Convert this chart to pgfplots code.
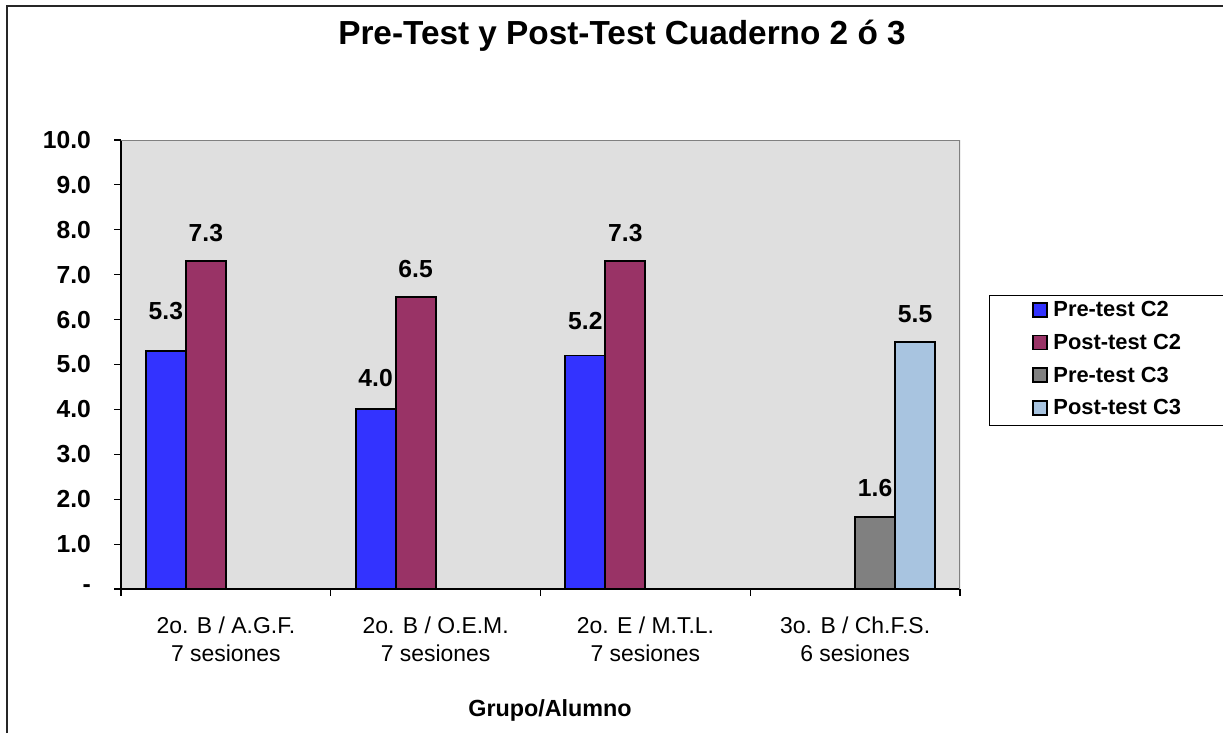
\documentclass[border=0pt]{standalone}
\usepackage{fontspec}
\setmainfont{Liberation Sans}
\usepackage{pgfplots}
\pgfplotsset{compat=1.18}
\usepackage{pgfplotstable}

\definecolor{cPreTwo}{HTML}{3333FF}
\definecolor{cPostTwo}{HTML}{993366}
\definecolor{cPreThree}{HTML}{808080}
\definecolor{cPostThree}{HTML}{A8C4E0}
\definecolor{plotbg}{HTML}{DFDFDF}

\pgfplotstableread{
x y s
0 5.3 9
1 4.0 2.25
2 5.2 4.5
}\preTwo
\pgfplotstableread{
x y s
0 7.3 0
1 6.5 0
2 7.3 0
}\postTwo
\pgfplotstableread{
x y s
3 1.6 0.75
}\preThree
\pgfplotstableread{
x y s
3 5.5 0
}\postThree

\pgfplotsset{
  sqleg/.style={legend image code/.code={\draw[##1,line width=1.4pt] (0pt,-4pt) rectangle (10.5pt,6.5pt);}},
}

\begin{document}
\begin{tikzpicture}
\useasboundingbox (0,0) rectangle (917.25pt,549.75pt);
\draw[line width=1.5pt, color=black!85] (5.25pt,0) -- (5.25pt,545.25pt) -- (917.25pt,545.25pt);
\node[anchor=base, font=\fontsize{25}{30}\selectfont\bfseries] at (466.5pt,516pt) {Pre-Test y Post-Test Cuaderno 2 ó 3};
\node[anchor=base, font=\fontsize{17.5}{21}\selectfont\bfseries] at (412.5pt,12.75pt) {Grupo/Alumno};
\begin{axis}[
  at={(90.75pt,108pt)}, anchor=south west,
  scale only axis, width=629.25pt, height=336.75pt,
  xmin=-0.5, xmax=3.5, ymin=0, ymax=10,
  ybar, bar width=0.1907,
  axis background/.style={fill=plotbg},
  axis x line*=bottom, axis y line*=left,
  axis line style={black, line width=0.8pt, -},
  xtick={-0.5,0.5,1.5,2.5,3.5}, xticklabels={},
  extra x ticks={0,1,2,3},
  extra x tick labels={{2o. B / A.G.F.\\7 sesiones},{2o. B / O.E.M.\\7 sesiones},{2o. E / M.T.L.\\7 sesiones},{3o. B / Ch.F.S.\\6 sesiones}},
  extra x tick style={tick style={draw=none}, xticklabel style={align=center, font=\fontsize{17.2}{21}\selectfont, yshift=-12pt}},
  ytick={0,1,2,3,4,5,6,7,8,9,10},
  yticklabels={-,1.0,2.0,3.0,4.0,5.0,6.0,7.0,8.0,9.0,10.0},
  yticklabel style={font=\fontsize{18.5}{22}\selectfont\bfseries, xshift=-14pt},
  tick align=outside, major tick length=5pt,
  tick style={black, line width=0.8pt},
  nodes near coords={\pgfmathprintnumber[fixed,fixed zerofill,precision=1,assume math mode=true]{\pgfplotspointmeta}},
  visualization depends on={\thisrow{s} \as \labshift},
  every node near coord/.append style={font=\fontsize{18.5}{22}\selectfont\bfseries, anchor=south, yshift={(10.5+\labshift)*1pt}, color=black},
  legend style={at={(1.0346,0.6548)}, anchor=north west, draw=black, line width=0.75pt, fill=white,
    inner xsep=32pt, inner ysep=2pt, row sep=4.5pt,
    nodes={inner sep=2pt, text height=12pt, text depth=4pt},
    font=\fontsize{16.4}{19.7}\selectfont\bfseries},
  legend cell align=left,
]
\addplot[fill=cPreTwo, draw=black, line width=1.4pt, bar shift=-0.286, sqleg] table[x=x,y=y] {\preTwo};
\addlegendentry{\hspace{2pt}Pre-test C2}
\addplot[fill=cPostTwo, draw=black, line width=1.4pt, bar shift=-0.0953, sqleg] table[x=x,y=y] {\postTwo};
\addlegendentry{\hspace{2pt}Post-test C2}
\addplot[fill=cPreThree, draw=black, line width=1.4pt, bar shift=0.0953, sqleg] table[x=x,y=y] {\preThree};
\addlegendentry{\hspace{2pt}Pre-test C3}
\addplot[fill=cPostThree, draw=black, line width=1.4pt, bar shift=0.286, sqleg] table[x=x,y=y] {\postThree};
\addlegendentry{\hspace{2pt}Post-test C3}
\draw[color=gray, line width=1.5pt] (rel axis cs:0,1) -- (rel axis cs:1,1) -- (rel axis cs:1,0);
\end{axis}
\end{tikzpicture}
\end{document}
